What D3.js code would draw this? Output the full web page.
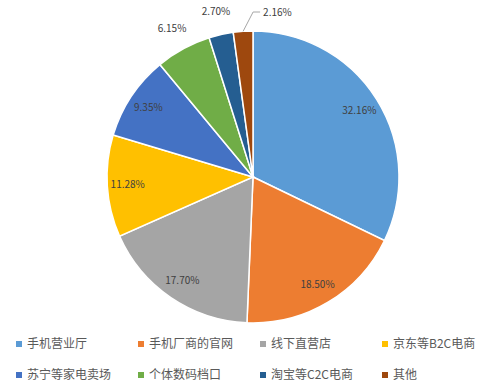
<!DOCTYPE html>
<html>
<head>
<meta charset="utf-8">
<script src="https://cdn.jsdelivr.net/npm/d3@7"></script>
<style>
  body { margin: 0; background: #fff; }
  text { font-family: "Noto Sans CJK SC", "Liberation Sans", sans-serif; }
</style>
</head>
<body>
<svg></svg>
<script>
// channel names and their shares (%)
let categories = ["手机营业厅", "手机厂商的官网", "线下直营店", "京东等B2C电商",
                  "苏宁等家电卖场", "个体数码档口", "淘宝等C2C电商", "其他"];
let shares = [32.16, 18.50, 17.70, 11.28, 9.35, 6.15, 2.70, 2.16];
let colors = ["#5B9BD5", "#ED7D31", "#A5A5A5", "#FFC000",
              "#4472C4", "#70AD47", "#255E91", "#9E480E"];

let svgWidth = 492;
let svgHeight = 388;
let cx = 253, cy = 177, radius = 146;

let svg = d3.select("svg")
    .attr("width", svgWidth)
    .attr("height", svgHeight);

let data = categories.map((c, i) => ({ name: c, value: shares[i], color: colors[i] }));

let pie = d3.pie().sort(null).value(d => d.value);
let arcs = pie(data);

let arc = d3.arc().innerRadius(0).outerRadius(radius);

let g = svg.append("g").attr("transform", "translate(" + cx + "," + cy + ")");

g.selectAll("path")
    .data(arcs)
    .enter()
    .append("path")
    .attr("d", arc)
    .attr("fill", d => d.data.color)
    .attr("stroke", "#fff")
    .attr("stroke-width", 1.5);

// labels: big slices inside, small ones outside
function labelPos(d) {
    let a = (d.startAngle + d.endAngle) / 2;
    let r = d.data.value > 8 ? radius * 0.86 : radius * 1.16;
    return [Math.sin(a) * r, -Math.cos(a) * r];
}

g.selectAll("text.lbl")
    .data(arcs.slice(0, 7))
    .enter()
    .append("text")
    .attr("class", "lbl")
    .attr("x", d => labelPos(d)[0])
    .attr("y", d => labelPos(d)[1])
    .attr("text-anchor", "middle")
    .attr("dy", "0.35em")
    .attr("font-family", "Liberation Sans, sans-serif")
    .attr("font-size", 10)
    .attr("fill", "#404040")
    .text(d => d.data.value.toFixed(2) + "%");

// the last slice gets a leader line
let last = arcs[7];
let la = (last.startAngle + last.endAngle) / 2;
let p0 = [Math.sin(la) * radius, -Math.cos(la) * radius];
let p1 = [p0[0] + 10, -radius - 19];
let p2 = [p1[0] + 7, p1[1]];
g.append("polyline")
    .attr("points", [p0, p1, p2].map(p => p.join(",")).join(" "))
    .attr("fill", "none")
    .attr("stroke", "#a6a6a6")
    .attr("stroke-width", 1);
g.append("text")
    .attr("x", p2[0] + 3)
    .attr("y", p2[1])
    .attr("dy", "0.35em")
    .attr("font-family", "Liberation Sans, sans-serif")
    .attr("font-size", 10)
    .attr("fill", "#404040")
    .text(last.data.value.toFixed(2) + "%");

// legend, 4 per row
let legend = svg.selectAll("g.leg")
    .data(data)
    .enter()
    .append("g")
    .attr("class", "leg")
    .attr("transform", (d, i) => "translate(" + (16 + (i % 4) * 122) + "," + (341 + Math.floor(i / 4) * 31) + ")");

legend.append("rect")
    .attr("width", 6)
    .attr("height", 6)
    .attr("fill", d => d.color);

legend.append("text")
    .attr("x", 11)
    .attr("y", 3)
    .attr("dy", "0.35em")
    .attr("font-size", 12)
    .attr("fill", "#595959")
    .text(d => d.name);
</script>
</body>
</html>
